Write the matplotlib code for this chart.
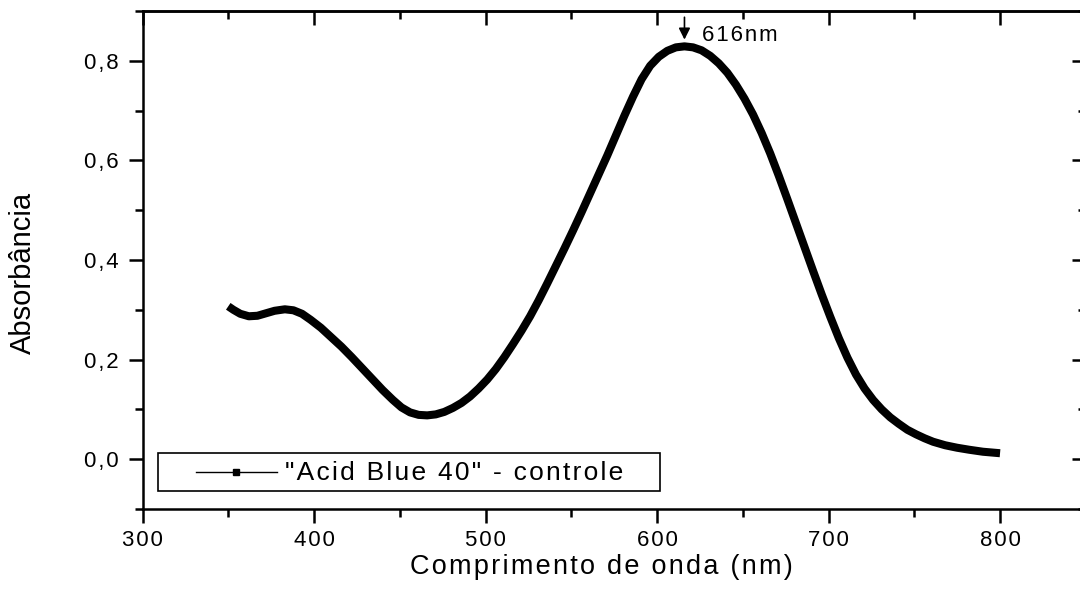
import numpy as np
import matplotlib
matplotlib.use("Agg")
import matplotlib.pyplot as plt
from matplotlib.ticker import FuncFormatter, MultipleLocator
from matplotlib.lines import Line2D
from matplotlib.patches import Rectangle

plt.rcParams['font.family'] = ['Liberation Sans', 'DejaVu Sans']

# espectro
comprimento = [350, 353, 357, 362, 367, 372, 377, 383, 388, 393, 398, 404, 410, 416,
               422, 428, 434, 440, 446, 451, 456, 461, 466, 471, 476, 481, 486, 491,
               496, 501, 506, 511, 516, 521, 526, 531, 536, 541, 546, 551, 556, 561,
               566, 571, 576, 581, 586, 591, 596, 601, 606, 611, 616, 621, 626, 631,
               636, 641, 646, 651, 656, 661, 666, 671, 676, 681, 686, 691, 696, 701,
               706, 711, 716, 721, 726, 731, 736, 741, 746, 751, 756, 761, 768, 775,
               782, 790, 800]
absorbancia = [0.307, 0.300, 0.292, 0.287, 0.288, 0.293, 0.298, 0.301, 0.299, 0.292,
               0.280, 0.264, 0.245, 0.226, 0.205, 0.183, 0.161, 0.139, 0.119, 0.104,
               0.094, 0.089, 0.088, 0.090, 0.095, 0.103, 0.113, 0.126, 0.142, 0.160,
               0.181, 0.205, 0.231, 0.258, 0.287, 0.319, 0.353, 0.388, 0.423, 0.459,
               0.496, 0.534, 0.572, 0.610, 0.650, 0.690, 0.728, 0.763, 0.790, 0.808,
               0.820, 0.827, 0.829, 0.827, 0.821, 0.810, 0.795, 0.776, 0.752, 0.724,
               0.692, 0.655, 0.614, 0.569, 0.522, 0.474, 0.426, 0.378, 0.331, 0.286,
               0.243, 0.204, 0.170, 0.142, 0.119, 0.100, 0.084, 0.071, 0.059, 0.050,
               0.042, 0.035, 0.028, 0.023, 0.019, 0.015, 0.012]
pico_x = 616
pico_txt = "616nm"
legenda = '"Acid Blue 40" - controle'
xticks = [300, 400, 500, 600, 700, 800]
yticks = [0.0, 0.2, 0.4, 0.6, 0.8]


def spaced(s, sep='\u200a'):
    return sep.join(s)


W, H = 1080, 596
fig = plt.figure(figsize=(W / 100, H / 100), dpi=100)
ax = fig.add_axes([142.5 / W, 1 - 509 / H, (1085.8 - 142.5) / W, (509 - 11) / H])

ax.plot(comprimento, absorbancia, color='k', lw=5.8, solid_capstyle='butt',
        solid_joinstyle='round')

ax.set_xlim(300, 850)
ax.set_ylim(-0.1, 0.9)
ax.set_xticks(xticks)
ax.xaxis.set_minor_locator(MultipleLocator(50))
ax.set_yticks(yticks)
ax.set_yticks(np.arange(-0.1, 0.91, 0.2), minor=True)
ax.yaxis.set_major_formatter(FuncFormatter(lambda v, p: spaced(f"{v:.1f}".replace('.', ','))))
ax.xaxis.set_major_formatter(FuncFormatter(lambda v, p: spaced(f"{v:.0f}")))

for s in ax.spines.values():
    s.set_linewidth(1.8)
ax.tick_params(axis='both', which='major', labelsize=16, width=1.8, length=10, direction='out')
ax.tick_params(axis='both', which='minor', width=1.8, length=5.5, direction='out')
ax.tick_params(axis='y', pad=7)
ax.tick_params(axis='x', pad=5)

# ticks internos no topo e a direita
ax2 = ax.secondary_xaxis('top')
ax2.set_xticks(xticks)
ax2.xaxis.set_minor_locator(MultipleLocator(50))
ax2.tick_params(which='major', direction='in', length=10, width=1.8, labeltop=False)
ax2.tick_params(which='minor', direction='in', length=5.5, width=1.8)
ax3 = ax.secondary_yaxis('right')
ax3.set_yticks(yticks)
ax3.set_yticks(np.arange(-0.1, 0.91, 0.2), minor=True)
ax3.tick_params(which='major', direction='in', length=10, width=1.8, labelright=False)
ax3.tick_params(which='minor', direction='in', length=5.5, width=1.8)
for a in (ax2, ax3):
    for s in a.spines.values():
        s.set_linewidth(1.8)

# seta do pico
ax.annotate('', xy=(pico_x, 0.837), xytext=(pico_x, 0.893),
            arrowprops=dict(arrowstyle='-|>', color='k', lw=1.2, mutation_scale=17))
ax.text(626.5, 0.850, spaced(pico_txt), fontsize=16, ha='left', va='center')

# legenda (caixa estilo Origin)
ax.add_patch(Rectangle(((158 - 142.5) / 943.3, (509 - 491) / 498), (660 - 158) / 943.3,
                       38 / 498, transform=ax.transAxes, fill=False, ec='k', lw=1.2))
ax.add_line(Line2D([(196 - 142.5) / 943.3, (277 - 142.5) / 943.3], [(509 - 472) / 498] * 2,
                   transform=ax.transAxes, color='k', lw=1.0))
ax.add_line(Line2D([(236 - 142.5) / 943.3], [(509 - 472) / 498], transform=ax.transAxes,
                   color='k', marker='s', markersize=4.5, ls='none'))
ax.text((285 - 142.5) / 943.3, (509 - 480) / 498, spaced(legenda), transform=ax.transAxes,
        fontsize=19, ha='left', va='baseline')

fig.text(601 / W, 1 - 574 / H, spaced("Comprimento de onda (nm)"), fontsize=19.5,
         ha='center', va='baseline')
fig.text(23 / W, 1 - 273 / H, "Absorbância", fontsize=21, rotation=90,
         ha='center', va='center')

fig.savefig("out.png", dpi=100)
